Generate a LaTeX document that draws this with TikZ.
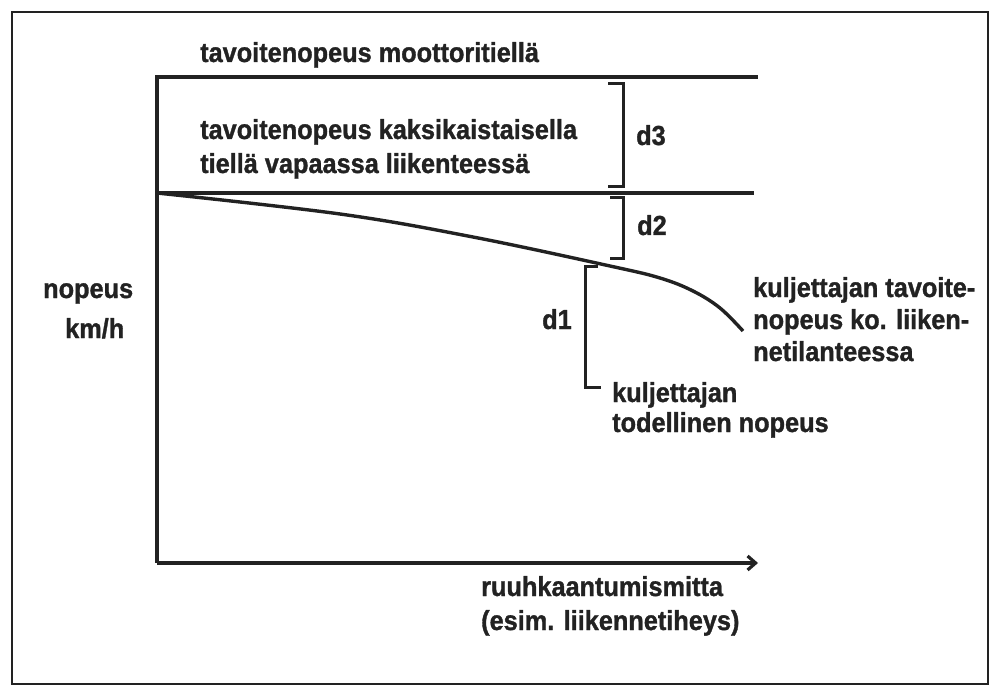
\documentclass[tikz,border=0pt]{standalone}
\usepackage{fontspec}
\setmainfont{Liberation Sans}[FakeStretch=0.92, BoldFeatures={FakeBold=1.2}]
\usetikzlibrary{arrows.meta, positioning}
\definecolor{ink}{HTML}{222222}
\tikzstyle{lbl} = [inner sep=0pt, anchor=base west, align=left, text=ink,
  font=\bfseries\fontsize{27.5pt}{34pt}\selectfont]
\tikzstyle{rule} = [ink, line width=3.2pt]
\tikzstyle{brace} = [ink, line width=3pt]

\begin{document}
\begin{tikzpicture}[x=1pt, y=-1pt]
    \useasboundingbox (0,0) rectangle (1007,687);
    \draw[ink, line width=2.8pt] (12,12) rectangle (988,684);
    % target speed levels
    \node[lbl] (motorway) at (200,62) {tavoitenopeus moottoritiellä};
    \draw[rule] (155,77) -- (758,77);
    \node[lbl] (twolane) at (200,173) {tavoitenopeus kaksikaistaisella\\tiellä vapaassa liikenteessä};
    \draw[rule] (155,193) -- (754,193);
    % axes
    \coordinate (origin) at (157,563);
    \draw[rule] (157,77) -- (origin);
    \draw[rule, -{Straight Barb[length=8pt, width=14pt]}] (origin) -- (758,563);
    \node[lbl] (ylabel) at (43,338) {nopeus\\[6pt]\hspace*{22pt}km/h};
    \node[lbl] (xlabel) at (481,630) {ruuhkaantumismitta\\(esim. liikennetiheys)};
    % driver target speed curve
    \draw[rule, line width=3.4pt] plot[smooth, tension=0.6] coordinates
      {(157,193) (340,214) (473,237) (610,266) (660,278) (693,291) (720,308) (743,331)};
    \node[lbl] (curvelbl) at (753,361) {kuljettajan tavoite-\\[-2pt]nopeus ko. liiken-\\[-2pt]netilanteessa};
    % differences
    \draw[brace] (608,84) -- (623,84) -- (623,187) -- (608,187);
    \node[lbl] (d3) at (636,145) {d3};
    \draw[brace] (610,198) -- (623,198) -- (623,259) -- (610,259);
    \node[lbl] (d2) at (637,235) {d2};
    \draw[brace] (598,267) -- (585,267) -- (585,387) -- (601,387);
    \node[lbl] (d1) at (542,329) {d1};
    \node[lbl] (actual) at (612,432) {kuljettajan\\[-4pt]todellinen nopeus};
  \end{tikzpicture}
\end{document}
